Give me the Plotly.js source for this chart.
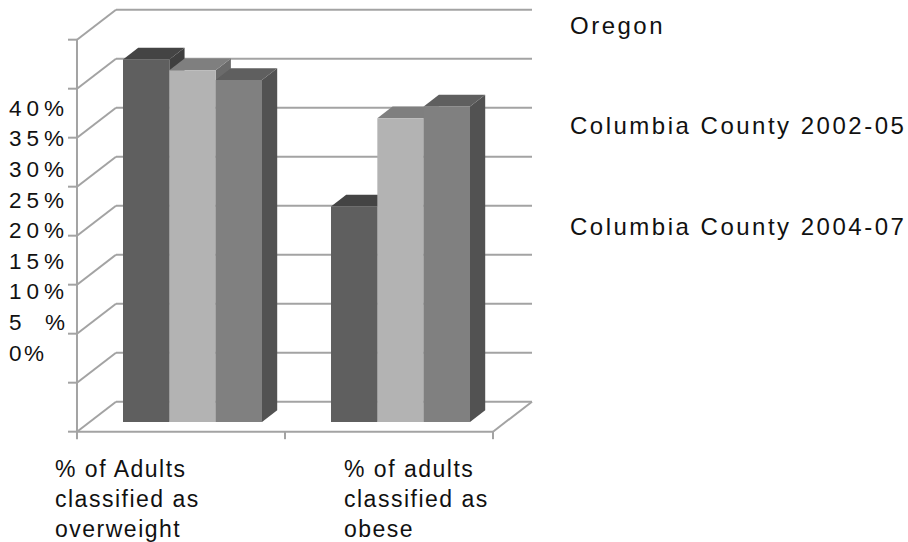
<!DOCTYPE html>
<html>
<head>
<meta charset="utf-8">
<script src="https://cdn.plot.ly/plotly-3.0.1.min.js"></script>
<style>
  html, body { margin: 0; padding: 0; background: #fff; }
</style>
</head>
<body>
<div id="chart" style="width:908px;height:542px"></div>
<script>
// Survey values, in percent of adults
const seriesNames = ["Oregon", "Columbia County 2002-05", "Columbia County 2004-07"];
const categoryLines = [
  ["% of Adults", "classified as", "overweight"],
  ["% of adults", "classified as", "obese"]
];
const oregon = [37, 22];
const columbia0205 = [35.9, 31];
const columbia0407 = [34.9, 32.2];
const tickValues = [0, 5, 10, 15, 20, 25, 30, 35, 40];
const tickLabels = ["0%", "5   %", "10%", "15%", "20%", "25%", "30%", "35%", "40%"];

// Shades for the front, top and side face of each series
const frontColors = ["#5f5f5f", "#b3b3b3", "#808080"];
const topColors = ["#444444", "#7f7f7f", "#5f5f5f"];
const sideColors = ["#3f3f3f", "#6b6b6b", "#525252"];
const wallColor = "#a3a3a3";

const W = 908, H = 542;
const pxPerCategory = 208, pxPerPercent = 9.8;
const zeroX = 192.5, zeroY = 422;
const depthX = 39 / pxPerCategory, depthY = 30 / pxPerPercent; // full floor depth in data units
const barPlaneX = 0.295, barPlaneY = 0.323;                    // how far into the floor the bars stand
const barDepth = 0.39;
const groupWidth = 139 / pxPerCategory;

// Oblique projection: c = category edge position, v = percent, t = depth from 0 (front) to 1 (back)
const px = (c, t) => c - 0.5 + (t - barPlaneX) * depthX;
const py = (v, t) => v + (t - barPlaneY) * depthY;

const poly = (pts, fill) => ({
  type: "path", xref: "x", yref: "y", layer: "below",
  path: "M" + pts.map(p => p[0] + "," + p[1]).join("L") + "Z",
  fillcolor: fill, line: { width: 0 }
});
const seg = (x0, y0, x1, y1) => ({
  type: "line", xref: "x", yref: "y", layer: "below",
  x0, y0, x1, y1, line: { color: wallColor, width: 2 }
});

const shapes = [];
const nCats = categoryLines.length;

// Chart walls: back gridlines, side wall slants and the left ticks
tickValues.forEach(v => {
  shapes.push(seg(px(0, 1), py(v, 1), px(nCats, 1), py(v, 1)));
  shapes.push(seg(px(0, 0), py(v, 0), px(0, 1), py(v, 1)));
  shapes.push(seg(px(0, 0) - 9 / pxPerCategory, py(v, 0), px(0, 0), py(v, 0)));
});
const topV = tickValues[tickValues.length - 1];
shapes.push(seg(px(0, 0), py(-7.5 / pxPerPercent, 0), px(0, 0), py(topV, 0)));
shapes.push(seg(px(0, 0), py(0, 0), px(nCats, 0), py(0, 0)));
shapes.push(seg(px(nCats, 0), py(0, 0), px(nCats, 1), py(0, 1)));
for (let c = 1; c <= nCats; c++) {
  shapes.push(seg(px(c, 0), py(0, 0), px(c, 0), py(-7.5 / pxPerPercent, 0)));
}

// Top and side faces of the bars, left to right so later bars overlap earlier ones
const allValues = [oregon, columbia0205, columbia0407];
const barW = groupWidth / allValues.length;
const dx = barDepth * depthX, dy = barDepth * depthY;
categoryLines.forEach((_, i) => {
  allValues.forEach((vals, s) => {
    const left = i - groupWidth / 2 + s * barW, right = left + barW, v = vals[i];
    shapes.push(poly([[right, 0], [right, v], [right + dx, v + dy], [right + dx, dy]], sideColors[s]));
    shapes.push(poly([[left, v], [right, v], [right + dx, v + dy], [left + dx, v + dy]], topColors[s]));
  });
});

// Front faces
const traces = allValues.map((vals, s) => ({
  type: "bar",
  name: seriesNames[s],
  x: categoryLines.map((_, i) => i),
  y: vals,
  marker: { color: frontColors[s], line: { width: 0 } },
  hovertemplate: seriesNames[s] + ": %{y}%<extra></extra>"
}));

// Text labels, placed on the page rather than on the value scale
const note = (text, x, y, size, spacing) => ({
  text: '<span style="letter-spacing:' + spacing + 'px">' + text + '</span>',
  xref: "paper", yref: "paper", x: x / W, y: 1 - y / H,
  xanchor: "left", yanchor: "middle", align: "left", showarrow: false,
  borderpad: 0, font: { family: "Liberation Sans, Arial, sans-serif", size, color: "#111111" }
});
const annotations = [];
tickLabels.forEach((t, i) => {
  const spacing = i === 0 ? 2.5 : i === 1 ? 1.2 : 5;
  annotations.push(note(t, 8, 353 - i * 30.6, 22.5, spacing));
});
const legendRows = [25.5, 125.5, 226.5];
seriesNames.forEach((n, i) => annotations.push(note(n, 569, legendRows[i], 24, 2.5)));
const categoryLeft = [54, 343];
categoryLines.forEach((lines, i) => lines.forEach((l, j) =>
  annotations.push(note(l, categoryLeft[i], 469 + j * 30, 23, 1.5))));

const layout = {
  width: W, height: H,
  margin: { l: 0, r: 0, t: 0, b: 0 },
  paper_bgcolor: "#ffffff", plot_bgcolor: "#ffffff",
  barmode: "group", bargap: 1 - groupWidth, bargroupgap: 0,
  showlegend: false,
  xaxis: { visible: false, range: [-zeroX / pxPerCategory, (W - zeroX) / pxPerCategory], fixedrange: true },
  yaxis: { visible: false, range: [-(H - zeroY) / pxPerPercent, zeroY / pxPerPercent], fixedrange: true },
  shapes, annotations
};

Plotly.newPlot("chart", traces, layout, { displayModeBar: false, staticPlot: true });
</script>
</body>
</html>
